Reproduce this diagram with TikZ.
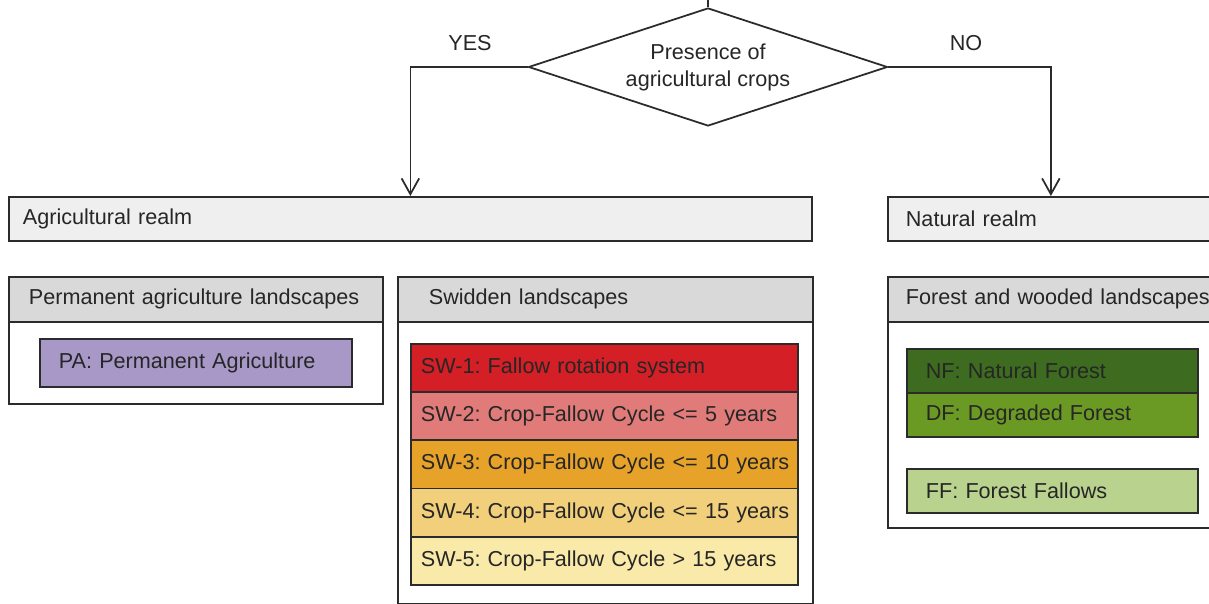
\documentclass[tikz,border=0pt]{standalone}
\usepackage{fontspec}
\setmainfont{Liberation Sans}
\usetikzlibrary{shapes.geometric,arrows.meta}

\newdimen\px \px=0.02cm

\definecolor{linecol}{HTML}{2B2B2B}
\definecolor{textcol}{HTML}{262626}
\definecolor{realmgray}{HTML}{EFEFEF}
\definecolor{headgray}{HTML}{D9D9D9}
\definecolor{pacol}{HTML}{A898C8}
\definecolor{sw1}{HTML}{D41F26}
\definecolor{sw2}{HTML}{E07B79}
\definecolor{sw3}{HTML}{E7A22A}
\definecolor{sw4}{HTML}{F1CF7B}
\definecolor{sw5}{HTML}{FAEAA9}
\definecolor{nfcol}{HTML}{3D6B1F}
\definecolor{dfcol}{HTML}{6B9A24}
\definecolor{ffcol}{HTML}{B9D38F}

\begin{document}
\begin{tikzpicture}
    [x = 0.02cm, y = -0.02cm, line width = 1pt,
     every node/.style = {text = textcol, font = \fontsize{12.3}{15.4}\selectfont\frenchspacing},
     box/.style = {rectangle, draw = linecol, anchor = north west, align = left,
                   inner ysep = 0pt},
     realm/.style = {box, fill = realmgray, minimum height = 44\px, inner xsep = 14\px},
     panel/.style = {box, fill = white},
     head/.style = {box, fill = headgray, minimum height = 45\px},
     cls/.style = {box, minimum height = 48.2\px, inner xsep = 10\px},
     arr/.style = {draw = linecol, -{Straight Barb[length=9pt, width=10pt]}}]

    \useasboundingbox (0,0) rectangle (1209,604);

    % decision
    \node [diamond, draw = linecol, aspect = 3, inner sep = 0pt, align = center,
           minimum width = 359\px, minimum height = 118\px] (dec) at (708,67)
          {Presence of\\agricultural crops};
    \coordinate (top) at (708,0);
    \draw [linecol] (top) -- (dec.north);
    \node (yes) at (470,43) {YES};
    \node (no) at (966,43) {NO};

    % realms
    \node [realm, text width = 775\px] (agri) at (8,196) {Agricultural realm};
    \node [realm, text width = 290\px, inner xsep = 18\px] (nat) at (887,196) {Natural realm};

    \draw [arr] (dec.west) -| (agri.north);
    \draw [arr] (dec.east) -| (nat.north);

    % permanent agriculture
    \node [panel, minimum width = 374\px, minimum height = 127\px] (perm) at (8,276) {};
    \node [head, text width = 334\px, inner xsep = 20\px] (permhead) at (perm.north west)
          {\mbox{Permanent agriculture landscapes}};
    \node [cls, fill = pacol, text width = 274\px, inner xsep = 19\px] (pa) at (39,338)
          {PA: Permanent Agriculture};

    % swidden
    \node [panel, minimum width = 415\px, minimum height = 327\px] (swid) at (397,276) {};
    \node [head, text width = 353\px, inner xsep = 31\px] (swidhead) at (swid.north west)
          {Swidden landscapes};
    \foreach \i/\txt in {1/{Fallow rotation system}, 2/{Crop-Fallow Cycle <= 5 years},
                         3/{Crop-Fallow Cycle <= 10 years}, 4/{Crop-Fallow Cycle <= 15 years},
                         5/{Crop-Fallow Cycle > 15 years}}
      \node [cls, fill = sw\i, text width = 367\px] (sw\i) at (410,{343+48.2*(\i-1)})
            {\mbox{SW-\i: \txt}};

    % forest
    \node [panel, minimum width = 334\px, minimum height = 251\px] (forest) at (887,276) {};
    \node [head, text width = 298\px, inner xsep = 18\px] (foresthead) at (forest.north west)
          {\mbox{Forest and wooded landscapes}};
    \node [cls, fill = nfcol, minimum height = 44\px, text width = 253\px, inner xsep = 19\px]
          (nf) at (906,348) {NF: Natural Forest};
    \node [cls, fill = dfcol, minimum height = 44\px, text width = 253\px, inner xsep = 19\px]
          (df) at (906,392) {DF: Degraded Forest};
    \node [cls, fill = ffcol, minimum height = 44\px, text width = 253\px, inner xsep = 19\px]
          (ff) at (906,468) {FF: Forest Fallows};
  \end{tikzpicture}
\end{document}
